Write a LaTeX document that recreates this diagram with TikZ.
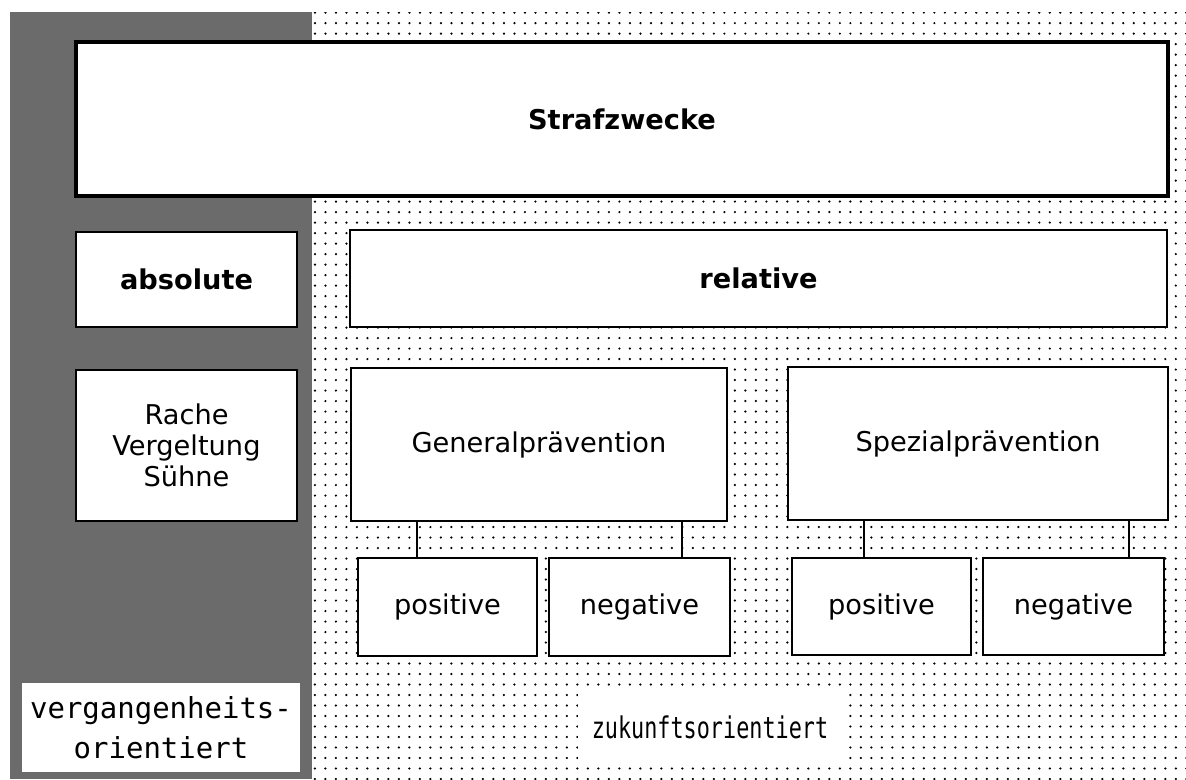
\documentclass[tikz,border=0pt]{standalone}
\usepackage{fontspec}
\setmainfont{DejaVu Sans}
\newfontfamily\boxmono{DejaVu Sans Mono}
\newfontfamily\narrowmono[FakeStretch=0.73]{DejaVu Sans Mono}
\usepackage{tikz}
\usetikzlibrary{patterns.meta}

\begin{document}
\begin{tikzpicture}[x=0.02cm,y=-0.02cm,
		box/.style={draw,fill=white,line width=1.1pt,inner sep=0pt,align=center,
			font=\fontsize{15.5}{17.6}\selectfont},
		headbox/.style={box,font=\fontsize{15.5}{18}\selectfont\bfseries},
		plainbox/.style={fill=white,inner sep=0pt,align=center}]
		\useasboundingbox (0,0) rectangle (1186,779);
		% background areas
		\fill[black!58] (10,12) rectangle (312,779);
		\fill[pattern={Dots[distance=0.21cm,radius=0.7pt]}] (312,12) rectangle (1186,779);
		%
		\node[headbox,line width=2.6pt,minimum width=21.84cm,minimum height=3.08cm] (straf) at (622,119) {Strafzwecke};
		\node[headbox,minimum width=4.42cm,minimum height=1.9cm] (absolut) at (186.5,279.5) {absolute};
		\node[headbox,minimum width=16.34cm,minimum height=1.94cm] (relativ) at (758.5,278.5) {relative};
		\node[box,minimum width=4.42cm,minimum height=3.02cm] (rache) at (186.5,445.5) {Rache\\Vergeltung\\Sühne};
		\node[box,minimum width=7.52cm,minimum height=3.06cm] (general) at (539,444.5) {Generalprävention};
		\node[box,minimum width=7.6cm,minimum height=3.06cm] (spezial) at (978,443.5) {Spezialprävention};
		\node[box,minimum width=3.58cm,minimum height=1.96cm] (genpos) at (447.5,607) {positive};
		\node[box,minimum width=3.62cm,minimum height=1.96cm] (genneg) at (639.5,607) {negative};
		\node[box,minimum width=3.58cm,minimum height=1.94cm] (spezpos) at (881.5,606.5) {positive};
		\node[box,minimum width=3.62cm,minimum height=1.94cm] (spezneg) at (1073.5,606.5) {negative};
		\node[plainbox,minimum width=5.56cm,minimum height=1.78cm,
			font=\boxmono\fontsize{16.5}{22.8}\selectfont] (verg) at (161,727.5) {vergangenheits-\\orientiert};
		\node[plainbox,minimum width=5.28cm,minimum height=1.4cm,
			font=\narrowmono\fontsize{17}{20}\selectfont] (zukunft) at (710,727) {zukunftsorientiert};
		%
		\path[line width=1.1pt]
		% links to the general box
		([xshift=-0.61cm]genpos.north) edge ([xshift=-0.61cm]genpos.north |- general.south)
		([xshift=0.85cm]genneg.north) edge ([xshift=0.85cm]genneg.north |- general.south)
		% links to the special box
		([xshift=-0.35cm]spezpos.north) edge ([xshift=-0.35cm]spezpos.north |- spezial.south)
		([xshift=1.11cm]spezneg.north) edge ([xshift=1.11cm]spezneg.north |- spezial.south);
	\end{tikzpicture}
\end{document}
